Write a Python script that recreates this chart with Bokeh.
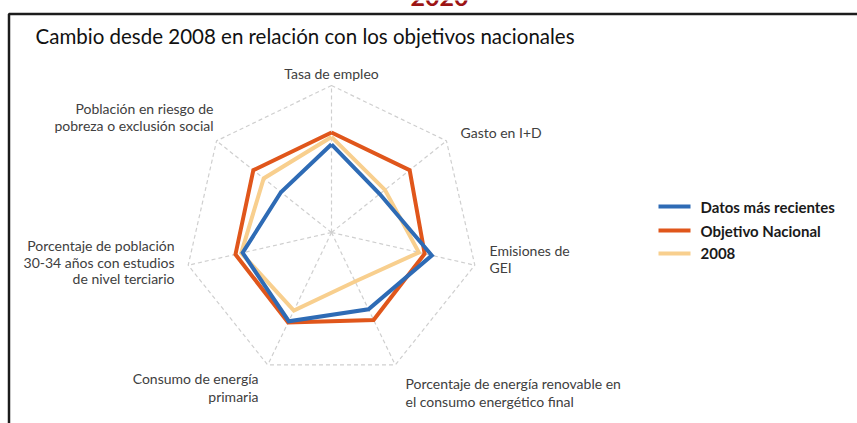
import numpy as np
from bokeh.plotting import figure
from bokeh.models import Range1d
from bokeh.core.properties import value
from bokeh.embed import file_html
from bokeh.resources import INLINE

# ---- data ----
axes_labels = [
    "Tasa de empleo",
    "Gasto en I+D",
    "Emisiones de GEI",
    "Porcentaje de energía renovable en el consumo energético final",
    "Consumo de energía primaria",
    "Porcentaje de población 30-34 años con estudios de nivel terciario",
    "Población en riesgo de pobreza o exclusión social",
]
series_names = ["Datos más recientes", "Objetivo Nacional", "2008"]
datos_recientes = [0.60, 0.42, 0.70, 0.58, 0.67, 0.62, 0.44]
objetivo_nacional = [0.68, 0.68, 0.65, 0.66, 0.68, 0.67, 0.68]
valores_2008 = [0.65, 0.465, 0.61, 0.37, 0.59, 0.63, 0.59]
title_text = "Cambio desde 2008 en relación con los objetivos nacionales"
year_text = "2020"

# ---- layout / style ----
W, H = 857, 423
CX, CY = 331, 232   # page position of the radar centre
R = 147.0           # pixel radius of the outer ring
FONT = "Lato"
colors = {"Datos más recientes": "#2e6bb5",
          "Objetivo Nacional": "#e0561b",
          "2008": "#f8cf8e"}

p = figure(width=W, height=H, output_backend="svg", toolbar_location=None,
           x_range=Range1d(-CX, W - CX), y_range=Range1d(CY - H, CY),
           min_border=0, min_border_left=0, min_border_right=0,
           min_border_top=0, min_border_bottom=0)
p.axis.visible = False
p.grid.visible = False
p.outline_line_color = None
p.background_fill_color = "white"
p.border_fill_color = "white"


def P(px, py):
    return px - CX, CY - py


n = len(axes_labels)
theta = np.arange(n) * 2 * np.pi / n
sx, sy = np.sin(theta), np.cos(theta)

# frame border (top and left)
bx0, by0 = P(8.5, 13.5)
bx1, _ = P(W + 5, 0)
_, by1 = P(0, H + 5)
p.line([bx0, bx0, bx1], [by1, by0, by0], line_color="#1c1c1c", line_width=2.5)

# "2020" heading, cut off at the top of the page as in the original
yx, yy = P(439, -3.5)
p.text([yx], [yy], text=[year_text], text_align="center", text_baseline="alphabetic",
       text_font=value(FONT), text_font_size="25px", text_font_style="bold",
       text_color="#9c1414")

# grid
ring_x = list(R * sx) + [R * sx[0]]
ring_y = list(R * sy) + [R * sy[0]]
p.line(ring_x, ring_y, line_color="#cfcfcf", line_width=1.2, line_dash="4 3")
p.multi_line([[0, R * a] for a in sx], [[0, R * b] for b in sy],
             line_color="#cfcfcf", line_width=1.2, line_dash="4 3")

# series (bottom to top)
for name, vals in [("2008", valores_2008), ("Objetivo Nacional", objetivo_nacional),
                   ("Datos más recientes", datos_recientes)]:
    v = np.array(vals)
    xs = list(v * R * sx) + [v[0] * R * sx[0]]
    ys = list(v * R * sy) + [v[0] * R * sy[0]]
    p.line(xs, ys, line_color=colors[name], line_width=4, line_join="miter")

# axis labels
label_lines = [
    ("Tasa de empleo", 331, 73, "center"),
    ("Gasto en I+D", 460, 132, "left"),
    ("Emisiones de", 489, 250, "left"),
    ("GEI", 489, 267, "left"),
    ("Porcentaje de energía renovable en", 405, 383, "left"),
    ("el consumo energético final", 405, 401, "left"),
    ("Consumo de energía", 258, 378, "right"),
    ("primaria", 258, 396, "right"),
    ("Porcentaje de población", 174, 245, "right"),
    ("30-34 años con estudios", 174, 262, "right"),
    ("de nivel terciario", 174, 278, "right"),
    ("Población en riesgo de", 213, 108, "right"),
    ("pobreza o exclusión social", 213, 125, "right"),
]
for txt, px, py, al in label_lines:
    x, y = P(px, py)
    p.text([x], [y], text=[txt], text_align=al, text_baseline="middle",
           text_font=value(FONT), text_font_size="14px", text_color="#404040")

# title
tx, ty = P(35, 35)
p.text([tx], [ty], text=[title_text], text_align="left", text_baseline="middle",
       text_font=value(FONT), text_font_size="20.5px", text_color="#111111")

# legend (manual)
leg_y = [206, 230, 253]
for name, py in zip(series_names, leg_y):
    x0, y0 = P(658, py)
    x1, _ = P(690, py)
    p.line([x0, x1], [y0, y0], line_color=colors[name], line_width=4)
    xt, _ = P(700, py)
    p.text([xt], [y0], text=[name], text_align="left", text_baseline="middle",
           text_font=value(FONT), text_font_size="15px", text_font_style="bold",
           text_color="#1a1a1a")

open("out.html", "w").write(file_html(p, INLINE))
